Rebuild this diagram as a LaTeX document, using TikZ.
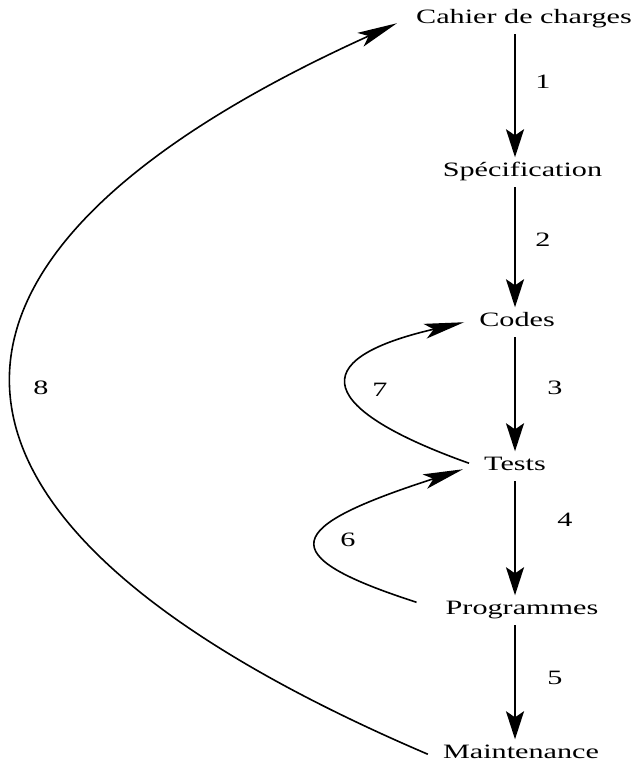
\documentclass[tikz,border=0pt]{standalone}
\usepackage{fontspec}
\setmainfont{Liberation Serif}[FakeStretch=1.48]
\usetikzlibrary{arrows.meta}

\newlength{\du}
\setlength{\du}{1pt}

\begin{document}
\begin{tikzpicture}[
  etape/.style={font=\fontsize{20.4}{24}\selectfont, inner xsep=15\du, inner ysep=0pt,
    text height=13.5\du, text depth=4\du, anchor=base},
  numero/.style={font=\fontsize{20.4}{24}\selectfont, inner sep=0pt},
  fleche/.style={line width=2\du, -{Stealth[length=28pt,width=18pt,inset=6pt]},
    shorten <=6\du, shorten >=6\du},
  retour/.style={line width=1.6\du, -{Stealth[length=40pt,width=15pt,inset=9pt]}}
]
\useasboundingbox (0\du,0\du) rectangle (634\du,762\du);
% etapes
\node[etape] (cahier) at (524\du,738\du){Cahier de charges};
\node[etape] (spec) at (522.5\du,585\du){Spécification};
\node[etape] (codes) at (517\du,435\du){Codes};
\node[etape] (tests) at (515\du,291\du){Tests};
\node[etape] (prog) at (522\du,147\du){Programmes};
\node[etape] (maint) at (521\du,3\du){Maintenance};
% fleches
\draw[fleche] (cahier.south -| tests) -- (spec.north -| tests);
\draw[fleche] (spec.south -| tests) -- (codes.north -| tests);
\draw[fleche] (codes.south -| tests) -- (tests.north);
\draw[fleche] (tests.south) -- (prog.north -| tests);
\draw[fleche] (prog.south -| tests) -- (maint.north -| tests);
% retours
\draw[retour] ([yshift=3\du]tests.west) .. controls (320\du,352\du) and (300\du,402\du) .. (codes.west);
\draw[retour] ([xshift=-14\du,yshift=8\du]prog.west) .. controls (270\du,207\du) and (284\du,235\du) .. ([xshift=-6\du,yshift=-3\du]tests.west);
\draw[retour] (maint.west) .. controls (-120\du,242\du) and (-120\du,505\du) .. ([xshift=-4\du,yshift=-4\du]cahier.west);
% numeros
\node[numero] (n1) at (543\du,680\du){1};
\node[numero] (n2) at (543\du,522\du){2};
\node[numero] (n3) at (555\du,374\du){3};
\node[numero] (n4) at (565\du,242\du){4};
\node[numero] (n5) at (555\du,84\du){5};
\node[numero] (n6) at (348\du,222\du){6};
\node[numero] (n7) at (380\du,372\du){7};
\node[numero] (n8) at (41\du,374\du){8};
\end{tikzpicture}
\end{document}
